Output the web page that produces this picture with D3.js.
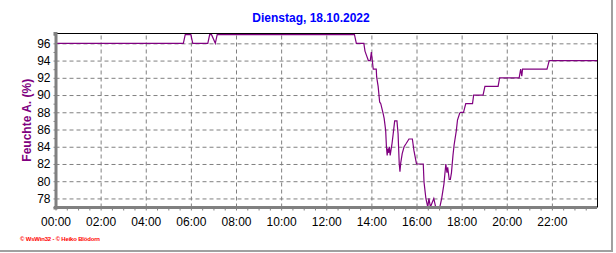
<!DOCTYPE html>
<html>
<head>
<meta charset="utf-8">
<script src="https://cdn.jsdelivr.net/npm/d3@7"></script>
<style>
  body { margin: 0; background: #fff; }
  svg { display: block; font-family: "Liberation Sans", Arial, sans-serif; }
</style>
</head>
<body>
<div id="chart"></div>
<script>
// data
const title = "Dienstag, 18.10.2022";
const yLabel = "Feuchte A. (%)";
const footer = "\u00a9 WsWin32 - \u00a9 Heiko Blödorn";
const yTicks = [78, 80, 82, 84, 86, 88, 90, 92, 94, 96];
const xTickHours = [0, 2, 4, 6, 8, 10, 12, 14, 16, 18, 20, 22];
const times = ["00:00", "05:40", "05:45", "06:00", "06:05", "06:45", "06:50", "06:55", "07:05", "07:10",
  "13:15", "13:20", "13:40", "13:43", "13:47", "13:52", "13:57", "14:00", "14:05", "14:13",
  "14:14", "14:18", "14:22", "14:25", "14:31", "14:34", "14:38", "14:40", "14:42", "14:44",
  "14:46", "14:48", "14:50", "14:55", "14:58", "15:02", "15:08", "15:11", "15:14", "15:16",
  "15:18", "15:22", "15:27", "15:33", "15:40", "15:49", "15:53", "16:00", "16:18", "16:20",
  "16:25", "16:30", "16:33", "16:37", "16:46", "16:51", "17:02", "17:07", "17:13", "17:18",
  "17:21", "17:23", "17:27", "17:30", "17:33", "17:37", "17:40", "17:46", "17:49", "17:55",
  "17:58", "18:05", "18:11", "18:29", "18:32", "18:57", "19:02", "19:37", "19:41", "20:33",
  "20:37", "20:40", "20:42", "21:47", "21:53", "24:00"];
const humidity = [96, 96, 97, 97, 96, 96, 97, 97, 96, 97,
  97, 96, 96, 95.1, 94.6, 94, 94, 95, 93, 93,
  92.1, 91, 89.2, 89, 87.9, 87.3, 85.9, 84, 83, 83.8,
  83.3, 84, 83, 84.4, 85.5, 87, 87, 85.5, 82.1, 81.1,
  82.1, 83.2, 84, 84.4, 84.9, 84.9, 83.6, 82, 82, 79.9,
  78, 77, 78, 77, 78, 77, 77, 78, 79.7, 82,
  81, 81.6, 80.2, 80.2, 81, 83, 84.2, 85.9, 87.1, 87.9,
  88, 88, 89, 89, 90, 90, 91, 91, 92, 92,
  93, 92.2, 93, 93, 94, 94];

const W = 616, H = 253;
const mLeft = 55.5, mRight = 597, mTop = 33, mBottom = 207.5;

const toHours = t => { const [h, m] = t.split(":").map(Number); return h + m / 60; };
const points = times.map((t, i) => ({ h: toHours(t), v: humidity[i] }));

const svg = d3.select("#chart").append("svg")
  .attr("width", W)
  .attr("height", H);

const x = d3.scaleLinear().domain([0, 24]).range([mLeft, mRight]);
const y = d3.scaleLinear().domain([76.95, 97.2]).range([mBottom, mTop]);

// frame shadow at right and bottom
svg.append("line").attr("x1", W - 4).attr("x2", W - 4).attr("y1", 0).attr("y2", H - 2)
  .attr("stroke", "#a0a0a0").attr("stroke-width", 2);
svg.append("line").attr("x1", 0).attr("x2", W - 3).attr("y1", H - 2).attr("y2", H - 2)
  .attr("stroke", "#a0a0a0").attr("stroke-width", 2);

// grid
const gridY = svg.append("g")
  .attr("transform", "translate(" + mLeft + ",0)")
  .call(d3.axisLeft(y).tickValues(yTicks).tickSize(-(mRight - mLeft)).tickFormat(""));
const gridX = svg.append("g")
  .attr("transform", "translate(0," + mBottom + ")")
  .call(d3.axisBottom(x).tickValues(xTickHours.slice(1)).tickSize(-(mBottom - mTop)).tickFormat(""));
[gridY, gridX].forEach(g => {
  g.select(".domain").remove();
  g.selectAll("line").attr("stroke", "#808080").attr("stroke-dasharray", "4,3");
});

// top and right border
svg.append("path")
  .attr("d", "M" + mLeft + "," + (mTop + 0.5) + "H" + (mRight + 0.5) + "V" + mBottom)
  .attr("fill", "none").attr("stroke", "#000").attr("stroke-width", 1);

// series
const line = d3.line().x(d => x(d.h)).y(d => y(d.v));
svg.append("path")
  .datum(points)
  .attr("d", line)
  .attr("fill", "none")
  .attr("stroke", "#800080")
  .attr("stroke-width", 1.2);

// y axis
const yAxis = svg.append("g")
  .attr("transform", "translate(" + mLeft + ",0)")
  .call(d3.axisLeft(y).tickValues(d3.range(77, 98, 1)).tickSize(2).tickFormat(""));
yAxis.select(".domain").attr("stroke", "#808080").attr("stroke-width", 3);
yAxis.selectAll("line").attr("stroke", "#808080");
const yLab = svg.append("g")
  .attr("transform", "translate(" + (mLeft - 3) + ",0)")
  .call(d3.axisLeft(y).tickValues(yTicks).tickSize(0).tickPadding(2));
yLab.select(".domain").remove();
yLab.selectAll("text").attr("font-size", 12).attr("fill", "#000")
  .attr("font-family", "Liberation Sans, Arial, sans-serif");

// x axis
const xAxis = svg.append("g")
  .attr("transform", "translate(0," + mBottom + ")")
  .call(d3.axisBottom(x).tickValues(d3.range(0, 24, 0.5)).tickSize(3).tickFormat(""));
xAxis.select(".domain").attr("stroke", "#808080").attr("stroke-width", 3)
  .attr("d", "M" + (mLeft - 1.5) + ",0H" + mRight);
xAxis.selectAll("line").attr("stroke", "#808080");
const xLab = svg.append("g")
  .attr("transform", "translate(0," + mBottom + ")")
  .call(d3.axisBottom(x).tickValues(xTickHours).tickSize(0).tickPadding(10)
    .tickFormat(h => d3.format("02")(h) + ":00"));
xLab.select(".domain").remove();
xLab.selectAll("text").attr("font-size", 12).attr("fill", "#000")
  .attr("font-family", "Liberation Sans, Arial, sans-serif");

// title
svg.append("text")
  .attr("x", 311).attr("y", 22)
  .attr("text-anchor", "middle")
  .attr("font-size", 12).attr("font-weight", "bold")
  .attr("fill", "#0000ff")
  .text(title);

// y label
svg.append("text")
  .attr("transform", "translate(31," + ((mTop + mBottom) / 2) + ") rotate(-90)")
  .attr("text-anchor", "middle")
  .attr("font-size", 12).attr("font-weight", "bold")
  .attr("fill", "#800080")
  .text(yLabel);

// footer
svg.append("text")
  .attr("x", 20).attr("y", 241)
  .attr("font-size", 6).attr("font-weight", "bold")
  .attr("fill", "#ff0000")
  .attr("textLength", 80)
  .text(footer);
</script>
</body>
</html>
